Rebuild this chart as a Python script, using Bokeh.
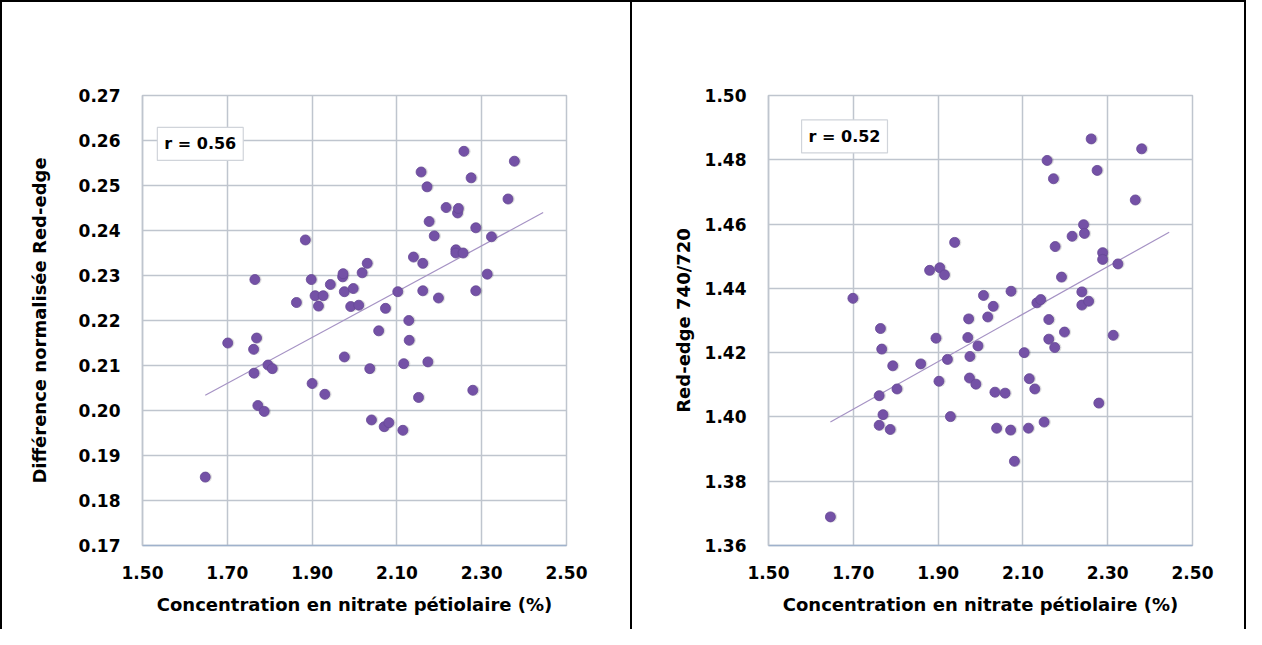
import numpy as np
from bokeh.plotting import figure
from bokeh.layouts import row
from bokeh.models import FixedTicker, PrintfTickFormatter, Label, Range1d
from bokeh.embed import file_html
from bokeh.resources import INLINE

# ---------------- data ----------------
nitrate_a = [1.648, 1.701, 1.763, 1.762, 1.769, 1.765, 1.772, 1.787, 1.796, 1.806,
             1.863, 1.884, 1.898, 1.900, 1.907, 1.915, 1.926, 1.930, 1.943, 1.972,
             1.973, 1.976, 1.976, 1.991, 1.997, 2.010, 2.018, 2.030, 2.036, 2.040,
             2.057, 2.070, 2.073, 2.081, 2.102, 2.114, 2.116, 2.128, 2.129, 2.139,
             2.151, 2.157, 2.161, 2.161, 2.171, 2.173, 2.176, 2.188, 2.198, 2.216,
             2.239, 2.239, 2.243, 2.245, 2.256, 2.258, 2.275, 2.279, 2.286, 2.286,
             2.313, 2.323, 2.362, 2.377]
ndre = [0.1852, 0.2150, 0.2083, 0.2136, 0.2161, 0.2291, 0.2011, 0.1998, 0.2101, 0.2093,
        0.2240, 0.2379, 0.2291, 0.2060, 0.2255, 0.2232, 0.2255, 0.2036, 0.2280, 0.2297,
        0.2304, 0.2264, 0.2119, 0.2231, 0.2271, 0.2234, 0.2306, 0.2327, 0.2093, 0.1979,
        0.2177, 0.1964, 0.2227, 0.1973, 0.2264, 0.1956, 0.2104, 0.2200, 0.2156, 0.2341,
        0.2029, 0.2530, 0.2327, 0.2266, 0.2497, 0.2108, 0.2420, 0.2388, 0.2250, 0.2451,
        0.2357, 0.2350, 0.2439, 0.2449, 0.2350, 0.2576, 0.2517, 0.2045, 0.2406, 0.2266,
        0.2303, 0.2386, 0.2470, 0.2554]

nitrate_b = [1.646, 1.699, 1.761, 1.770, 1.761, 1.787, 1.764, 1.767, 1.793, 1.803,
             1.859, 1.880, 1.895, 1.902, 1.904, 1.915, 1.922, 1.929, 1.939, 1.970,
             1.972, 1.974, 1.975, 1.989, 1.994, 2.007, 2.017, 2.030, 2.034, 2.038,
             2.058, 2.071, 2.072, 2.080, 2.103, 2.113, 2.115, 2.128, 2.133, 2.142,
             2.150, 2.157, 2.161, 2.161, 2.172, 2.175, 2.176, 2.191, 2.198, 2.216,
             2.239, 2.239, 2.243, 2.245, 2.255, 2.261, 2.275, 2.279, 2.288, 2.288,
             2.313, 2.324, 2.365, 2.380]
ratio = [1.3689, 1.4369, 1.4066, 1.4007, 1.3974, 1.3961, 1.4275, 1.4211, 1.4159, 1.4087,
         1.4165, 1.4456, 1.4245, 1.4111, 1.4464, 1.4442, 1.4179, 1.4001, 1.4543, 1.4247,
         1.4305, 1.4121, 1.4188, 1.4102, 1.4221, 1.4378, 1.4311, 1.4344, 1.4077, 1.3965,
         1.4074, 1.3959, 1.4391, 1.3862, 1.4200, 1.3965, 1.4119, 1.4087, 1.4355, 1.4365,
         1.3984, 1.4798, 1.4303, 1.4242, 1.4741, 1.4216, 1.4530, 1.4435, 1.4264, 1.4562,
         1.4389, 1.4348, 1.4598, 1.4571, 1.4360, 1.4865, 1.4767, 1.4043, 1.4511, 1.4490,
         1.4254, 1.4476, 1.4675, 1.4834]

x_ticks = [1.50, 1.70, 1.90, 2.10, 2.30, 2.50]
ndre_ticks = [0.17, 0.18, 0.19, 0.20, 0.21, 0.22, 0.23, 0.24, 0.25, 0.26, 0.27]
ratio_ticks = [1.36, 1.38, 1.40, 1.42, 1.44, 1.46, 1.48, 1.50]
r_labels = ["r = 0.56", "r = 0.52"]
x_title = "Concentration en nitrate pétiolaire (%)"
y_titles = ["Différence normalisée Red-edge", "Red-edge 740/720"]
trend_end = 2.445

FONT = "DejaVu Sans"
GRID = "#BFC5CE"
DOT = "#7451A6"


def panel(xs, ys, yticks, ytitle, rtext, rx, ry, width, left, right, ystandoff, border_css):
    p = figure(width=width, height=629, output_backend="svg", toolbar_location=None,
               x_range=Range1d(x_ticks[0], x_ticks[-1]),
               y_range=Range1d(yticks[0], yticks[-1]),
               min_border_left=left, min_border_right=right,
               min_border_top=93, min_border_bottom=86)
    p.styles = border_css
    p.background_fill_color = "white"
    p.border_fill_color = "white"
    p.outline_line_color = GRID
    p.outline_line_width = 1.5

    p.xaxis.ticker = FixedTicker(ticks=x_ticks)
    p.yaxis.ticker = FixedTicker(ticks=yticks)
    p.xaxis.formatter = PrintfTickFormatter(format="%.2f")
    p.yaxis.formatter = PrintfTickFormatter(format="%.2f")
    for ax in (p.xaxis, p.yaxis):
        ax.major_tick_line_color = None
        ax.minor_tick_line_color = None
        ax.major_tick_out = 0
        ax.major_tick_in = 0
        ax.major_label_text_font = FONT
        ax.major_label_text_font_style = "bold"
        ax.major_label_text_font_size = "17px"
        ax.major_label_text_color = "black"
        ax.axis_label_text_font = FONT
        ax.axis_label_text_font_style = "bold"
        ax.axis_label_text_font_size = "18px"
        ax.axis_label_text_color = "black"
    p.xaxis.axis_line_color = "#9FB2CC"
    p.xaxis.axis_line_width = 1.5
    p.yaxis.axis_line_color = GRID
    p.yaxis.axis_line_width = 1.5
    p.xaxis.major_label_standoff = 20
    p.yaxis.major_label_standoff = 22
    p.xaxis.axis_label = x_title
    p.yaxis.axis_label = ytitle
    p.xaxis.axis_label_standoff = 12
    p.yaxis.axis_label_standoff = ystandoff

    p.xgrid.grid_line_color = GRID
    p.ygrid.grid_line_color = GRID
    p.xgrid.grid_line_width = 1.5
    p.ygrid.grid_line_width = 1.5

    # linear trend line fitted to the points
    slope, intercept = np.polyfit(xs, ys, 1)
    tx = np.array([min(xs), trend_end])
    p.line(tx, slope * tx + intercept, line_color="#A592C4", line_width=1.2)

    # soft shadow + dots
    p.scatter(np.array(xs) + 0.003, np.array(ys), size=11, fill_color="#000000",
              fill_alpha=0.12, line_color=None)
    p.scatter(xs, ys, size=10, fill_color=DOT, line_color="#664796", line_width=0.8)

    lab = Label(x=rx, y=ry, text=rtext, text_font=FONT, text_font_style="bold",
                text_font_size="16px", text_color="black", text_baseline="top",
                text_align="left", background_fill_color="white",
                border_line_color="#D0D4DA", border_line_width=1.2, padding=7)
    p.add_layout(lab)
    return p


p1 = panel(nitrate_a, ndre, ndre_ticks, y_titles[0], r_labels[0], 1.535, 0.2629,
           631, 140, 67, 26,
           {"border-top": "2px solid black", "border-left": "2px solid black",
            "border-right": "1px solid black", "box-sizing": "border-box"})
p2 = panel(nitrate_b, ratio, ratio_ticks, y_titles[1], r_labels[1], 1.578, 1.4924,
           615, 136, 55, 8,
           {"border-top": "2px solid black", "border-left": "1px solid black",
            "border-right": "2px solid black", "box-sizing": "border-box"})

layout = row(p1, p2)
open("out.html", "w").write(file_html(layout, INLINE))
